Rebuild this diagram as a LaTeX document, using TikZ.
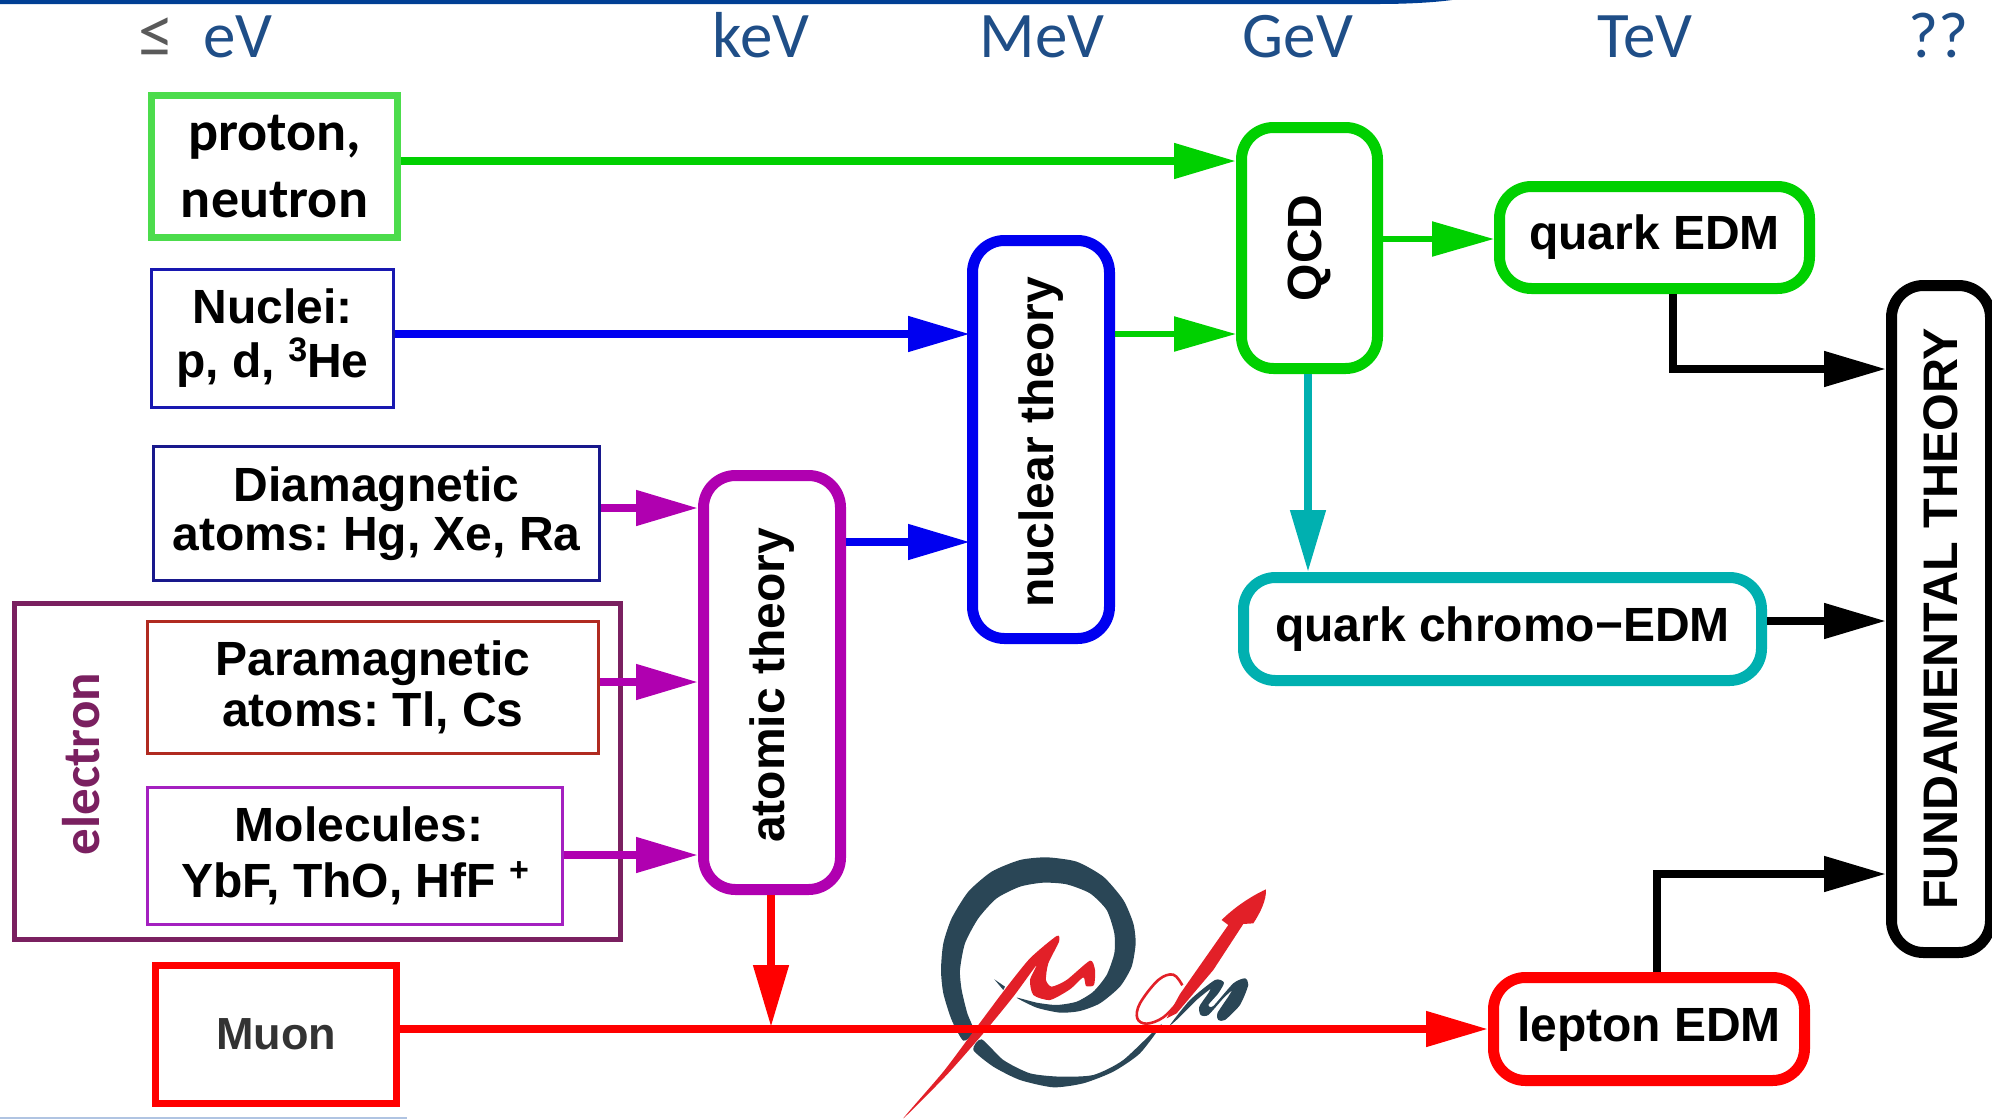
\documentclass[tikz,border=0pt]{standalone}
\usepackage{fontspec}
\setmainfont{Liberation Sans}
\newfontfamily\carlito{Carlito}
\usepackage{xcolor}
\definecolor{scaleblue}{RGB}{31,78,135}
\definecolor{scalegray}{RGB}{90,90,90}
\definecolor{barblue}{RGB}{0,63,148}
\definecolor{linegray}{RGB}{176,196,226}
\definecolor{protongreen}{RGB}{76,220,76}
\definecolor{mygreen}{RGB}{0,208,0}
\definecolor{myblue}{RGB}{0,0,240}
\definecolor{nucleiblue}{RGB}{24,24,176}
\definecolor{diamagblue}{RGB}{24,24,140}
\definecolor{electronpurple}{RGB}{122,32,96}
\definecolor{parared}{RGB}{176,42,32}
\definecolor{molpurple}{RGB}{164,32,192}
\definecolor{mypurple}{RGB}{176,0,176}
\definecolor{myteal}{RGB}{0,176,176}
\definecolor{logodark}{RGB}{42,70,86}
\definecolor{logored}{RGB}{226,32,40}
\usepackage{tikz}
\usetikzlibrary{arrows.meta}
\newcommand{\labelfont}{\fontsize{48}{52}\selectfont\bfseries\frenchspacing}
\newcommand{\raised}[1]{\raisebox{0.34em}{\fontsize{34}{34}\selectfont #1}}
\tikzset{
    common/.style={draw, align=center, inner sep=0pt, font=\labelfont},
    source/.style={common, line width=3pt},
    theory/.style={common, line width=11pt, rounded corners=32pt},
    scalelabel/.style={anchor=base, text=scaleblue, font=\carlito\fontsize{65}{70}\selectfont},
    flow/.style={-{Triangle[length=62pt,width=34pt]}, line width=8pt, shorten >=0pt},
    thinflow/.style={flow, line width=5.5pt},
}
\begin{document}
\begin{tikzpicture}[x=1pt, y=-1pt]
  \path[use as bounding box, clip] (0,0) rectangle (1992,1119);
  \fill[barblue] (0,0) -- (1452,0) .. controls (1430,3) and (1400,4) .. (1380,4) -- (0,4) -- cycle;
  \fill[linegray] (0,1117) rectangle (407,1119);

  \path (156,57)
      node[anchor=base, text=scalegray, font=\carlito\fontsize{72}{76}\selectfont] (leq) {≤}
      ++(82,0) node[scalelabel] (ev) {eV}
      ++(523,0) node[scalelabel] (kev) {keV}
      ++(281,0) node[scalelabel] (mev) {MeV}
      ++(256,0) node[scalelabel] (gev) {GeV}
      ++(347,0) node[scalelabel] (tev) {TeV}
      ++(294,0) node[scalelabel] (unknown) {??};

  \node[draw=electronpurple, line width=5pt, minimum width=606pt, minimum height=336pt] (electronbox) at (317.5,771.5) {};
  \node[text=electronpurple, font=\carlito\fontsize{53}{56}\selectfont\bfseries] (electron) at (81,764) {\rotatebox{90}{electron}};

  \path
      (274.5,166.5) node[common, draw=protongreen, line width=7pt, minimum width=246pt, minimum height=142pt, font=\carlito\fontsize{56}{67}\selectfont\bfseries] (proton) {proton,\\neutron}
      ++(-2,172) node[source, draw=nucleiblue, minimum width=242pt, minimum height=138pt] (nuclei) {Nuclei:\\[2pt]p, d, \raised{3}He}
      ++(104,175) node[source, draw=diamagblue, minimum width=446pt, minimum height=134pt] (diamag) {Diamagnetic\\[-3pt]atoms: Hg, Xe, Ra}
      ++(-3.5,174) node[source, draw=parared, minimum width=451pt, minimum height=132pt] (para) {Paramagnetic\\[-1pt]atoms: Tl, Cs}
      ++(-18,168.5) node[source, draw=molpurple, minimum width=415pt, minimum height=137pt] (molecules) {\hspace*{8pt}Molecules:\\[4pt]YbF, ThO, HfF \raised{+}}
      ++(-79,178) node[common, draw=red, line width=7pt, minimum width=241pt, minimum height=138pt, text=black!80, font=\fontsize{45}{50}\selectfont\bfseries] (muon) {Muon};

  \node[theory, draw=mypurple, minimum width=137pt, minimum height=414pt] (atomic) at (772,682.5) {\rotatebox{90}{atomic theory\hspace*{6pt}}};
  \node[theory, draw=myblue, minimum width=137pt, minimum height=398pt] (nuclear) at (1041,439.5) {\rotatebox{90}{nuclear theory\hspace*{6pt}}};
  \node[theory, draw=mygreen, minimum width=136pt, minimum height=241pt] (qcd) at (1309.5,248) {\rotatebox{90}{QCD}};
  \node[theory, draw=mygreen, minimum width=310pt, minimum height=102pt] (quark) at (1654.5,237.5) {quark EDM};
  \node[theory, draw=myteal, minimum width=518pt, minimum height=103pt] (chromo) at (1502.5,629) {quark chromo{\textminus}EDM};
  \node[theory, draw=red, minimum width=311pt, minimum height=103pt] (lepton) at (1649,1029) {lepton EDM};
  \node[theory, draw=black, minimum width=99pt, minimum height=667pt, font=\fontsize{48.5}{52}\selectfont\bfseries] (fundamental) at (1941,619) {\rotatebox{90}{FUNDAMENTAL THEORY}};

  \begin{scope}[shift={(880,830)}, x=0.3333pt, y=-0.3333pt]
    \fill[logodark] plot[smooth cycle, tension=0.4] coordinates {(250,632) (215,570) (190,490) (183,420) (190,340) (215,265) (265,185) (335,125) (420,90) (500,82) (590,95) (670,140) (730,210) (760,280) (767,340) (755,410) (720,470) (660,520) (600,543) (540,548) (470,533) (410,503) (470,518) (530,525) (590,515) (640,485) (680,435) (703,370) (703,310) (680,240) (630,190) (560,163) (490,158) (420,170) (350,205) (295,265) (255,340) (240,420) (245,480) (262,550) (282,605)};
    \fill[logodark] plot[smooth cycle, tension=0.4] coordinates {(280,660) (305,628) (370,690) (450,730) (540,740) (640,735) (730,690) (845,582) (780,670) (700,725) (610,760) (520,772) (420,750) (340,710)};
    \fill[logodark] (343,448) -- (375,470) -- (370,480) -- cycle;
    \fill[logodark] plot[smooth cycle, tension=0.4] coordinates {(870,585) (930,510) (1005,450) (1032,458) (1015,490) (985,525) (1000,528) (1060,460) (1095,445) (1105,465) (1080,525) (1035,570) (1015,570) (1012,550) (1045,500) (1055,482) (1030,505) (985,555) (962,555) (958,530) (985,490) (990,478) (950,510) (895,565)};
    \fill[logored] plot[smooth cycle, tension=0.4] coordinates {(70,865) (190,725) (280,605) (375,478) (450,385) (530,318) (537,335) (505,400) (498,450) (515,470) (560,450) (630,392) (645,420) (642,465) (618,468) (610,442) (570,478) (510,510) (460,495) (450,450) (470,405) (400,500) (310,610) (200,735)};
    \draw[logored, line width=2.6pt] plot[smooth, tension=0.6] coordinates {(907,466) (880,434) (835,450) (780,520) (772,565) (800,581) (850,562) (900,510)};
    \fill[logored] (900,492) -- (1045,285) -- (1025,270) .. controls (1060,235) and (1110,200) .. (1158,178) .. controls (1160,210) and (1140,250) .. (1120,280) -- (1090,282) -- (1000,420) -- (890,550) -- (860,565) -- cycle;
  \end{scope}

  \coordinate (join) at (771,1027);
  \draw[flow, draw=mygreen] ([yshift=5.5pt]proton.east) -- ([yshift=87pt]qcd.west);
  \draw[flow, draw=myblue, shorten >=-3pt] ([yshift=4.5pt]nuclei.east) -- ([yshift=105.5pt]nuclear.west);
  \draw[thinflow, draw=mygreen] ([yshift=105.5pt]nuclear.east) -- ([yshift=-86pt]qcd.west);
  \draw[thinflow, draw=mygreen] ([yshift=9pt]qcd.east) -- ([yshift=-1.5pt]quark.west);
  \draw[flow, draw=myteal] ([xshift=-1.5pt]qcd.south) -- ([xshift=-194.5pt]chromo.north);
  \draw[flow, draw=mypurple] ([yshift=5.5pt]diamag.east) -- ([yshift=174.5pt]atomic.west);
  \draw[flow, draw=mypurple] ([yshift=5.5pt]para.east) -- ([yshift=0.5pt]atomic.west);
  \draw[flow, draw=mypurple] ([yshift=1pt]molecules.east) -- ([yshift=-172.5pt]atomic.west);
  \draw[flow, draw=myblue, shorten >=-3pt] ([yshift=140.5pt]atomic.east) -- ([yshift=-102.5pt]nuclear.west);
  \draw[flow, draw=red] ([xshift=-1pt]atomic.south) -- (join);
  \draw[flow, draw=red] ([yshift=5pt]muon.east) -- (lepton.west);
  \draw[flow, draw=black] ([xshift=18.5pt]quark.south) |- ([yshift=250pt]fundamental.west);
  \draw[flow, draw=black] ([yshift=8pt]chromo.east) -- ([yshift=-2pt]fundamental.west);
  \draw[flow, draw=black] ([xshift=8pt]lepton.north) |- ([yshift=-255pt]fundamental.west);
\end{tikzpicture}
\end{document}
